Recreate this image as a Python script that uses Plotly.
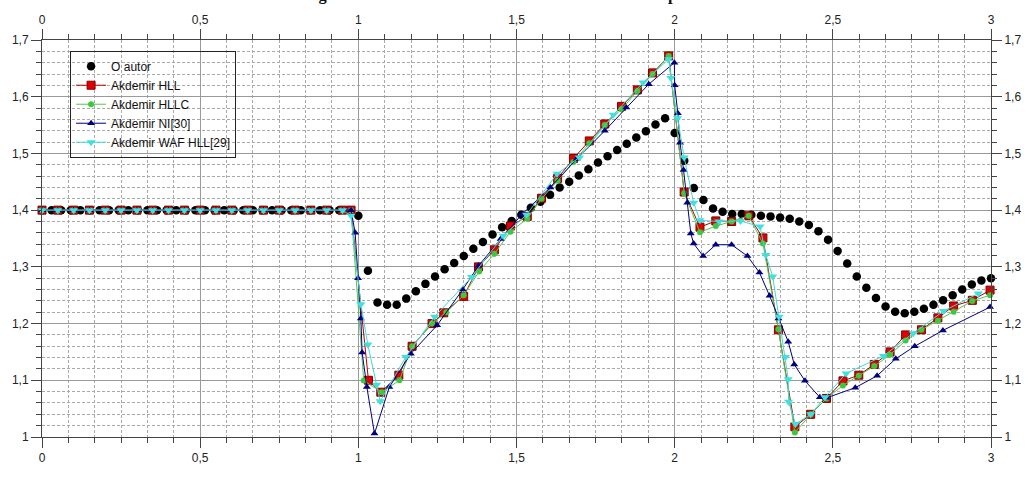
import numpy as np
import plotly.graph_objects as go

# ---------------- data ----------------
autor_x = np.linspace(0, 3, 100)
autor_y = [1.4] * 33 + [1.39,
    1.293, 1.237, 1.233, 1.233, 1.244, 1.257, 1.270, 1.283, 1.296, 1.307, 1.319, 1.332,
    1.344, 1.357, 1.370, 1.381, 1.392, 1.404, 1.415, 1.427, 1.440, 1.450, 1.461, 1.472,
    1.484, 1.495, 1.506, 1.517, 1.528, 1.539, 1.551, 1.562,
    1.536, 1.487, 1.439, 1.418, 1.403, 1.397, 1.393, 1.393, 1.392, 1.390, 1.389, 1.387,
    1.385, 1.380, 1.374, 1.363, 1.348, 1.328, 1.306, 1.283, 1.263, 1.245, 1.230, 1.221,
    1.218, 1.221, 1.226, 1.233, 1.241, 1.250, 1.260, 1.269, 1.276, 1.280]

flat_x = [0.0, 0.05, 0.1, 0.15, 0.2, 0.25, 0.3, 0.35, 0.4, 0.45, 0.5, 0.55, 0.6, 0.65,
          0.7, 0.75, 0.8, 0.85, 0.9, 0.95]

hll_x = flat_x + [0.977, 1.032, 1.071, 1.128, 1.17, 1.233, 1.27, 1.333, 1.38, 1.43, 1.481,
                  1.534, 1.579, 1.63, 1.68, 1.73, 1.779, 1.832, 1.882, 1.93, 1.981, 2.03,
                  2.08, 2.13, 2.18, 2.234, 2.279, 2.328, 2.38, 2.43, 2.48, 2.532, 2.582,
                  2.631, 2.681, 2.73, 2.78, 2.832, 2.882, 2.941, 2.997]
hll_y = [1.4] * 20 + [1.40, 1.10, 1.079, 1.109, 1.16, 1.20, 1.219, 1.248, 1.30, 1.33, 1.372,
                      1.389, 1.421, 1.456, 1.491, 1.522, 1.552, 1.583, 1.612, 1.642, 1.672,
                      1.432, 1.37, 1.381, 1.38, 1.39, 1.351, 1.189, 1.018, 1.04, 1.068,
                      1.099, 1.109, 1.128, 1.15, 1.18, 1.189, 1.21, 1.231, 1.241, 1.259]

hllc_x = flat_x + [0.977, 1.017, 1.074, 1.13, 1.17, 1.233, 1.278, 1.333, 1.382, 1.43, 1.481,
                   1.534, 1.579, 1.63, 1.68, 1.73, 1.779, 1.832, 1.882, 1.93, 1.981, 2.03,
                   2.08, 2.13, 2.18, 2.234, 2.279, 2.328, 2.38, 2.43, 2.48, 2.532, 2.582,
                   2.631, 2.681, 2.73, 2.78, 2.832, 2.882, 2.941, 2.997]
hllc_y = [1.4] * 20 + [1.40, 1.0995, 1.079, 1.10, 1.16, 1.20, 1.22, 1.25, 1.292, 1.323, 1.362,
                       1.385, 1.42, 1.452, 1.485, 1.518, 1.55, 1.578, 1.61, 1.64, 1.672,
                       1.43, 1.361, 1.372, 1.38, 1.39, 1.341, 1.19, 1.008, 1.04, 1.068,
                       1.091, 1.108, 1.125, 1.145, 1.17, 1.189, 1.205, 1.221, 1.24, 1.25]

ni_x = flat_x + [0.977, 0.99, 0.999, 1.008, 1.012, 1.027, 1.051, 1.098, 1.166, 1.249, 1.33,
                 1.38, 1.45, 1.516, 1.607, 1.69, 1.779, 1.847, 1.918, 1.999, 2.0, 2.01,
                 2.017, 2.028, 2.04, 2.051, 2.06, 2.09, 2.13, 2.18, 2.23, 2.268, 2.3,
                 2.328, 2.359, 2.378, 2.412, 2.459, 2.48, 2.571, 2.64, 2.699, 2.759,
                 2.848, 2.997]
ni_y = [1.4] * 20 + [1.40, 1.36, 1.28, 1.209, 1.149, 1.088, 1.006, 1.088, 1.147, 1.197, 1.26,
                     1.302, 1.349, 1.392, 1.44, 1.49, 1.54, 1.581, 1.622, 1.66, 1.62, 1.571,
                     1.519, 1.471, 1.413, 1.359, 1.341, 1.319, 1.339, 1.339, 1.319, 1.29,
                     1.249, 1.209, 1.168, 1.128, 1.099, 1.07, 1.069, 1.087, 1.108, 1.138,
                     1.16, 1.188, 1.229]

waf_x = flat_x + [0.977, 1.008, 1.03, 1.058, 1.069, 1.15, 1.241, 1.358, 1.458, 1.532, 1.628,
                  1.699, 1.806, 1.9, 1.981, 1.988, 2.009, 2.03, 2.06, 2.08, 2.14, 2.208,
                  2.27, 2.288, 2.31, 2.33, 2.35, 2.359, 2.36, 2.382, 2.43, 2.475, 2.542,
                  2.66, 2.754, 2.85, 2.96]
waf_y = [1.4] * 20 + [1.39, 1.234, 1.163, 1.092, 1.063, 1.141, 1.212, 1.282, 1.355, 1.392,
                      1.464, 1.493, 1.568, 1.625, 1.666, 1.633, 1.562, 1.493, 1.413, 1.382,
                      1.38, 1.381, 1.371, 1.321, 1.283, 1.212, 1.141, 1.102, 1.062, 1.023,
                      1.04, 1.07, 1.112, 1.143, 1.183, 1.222, 1.253]

names = ["O autor", "Akdemir HLL", "Akdemir HLLC", "Akdemir NI[30]", "Akdemir WAF HLL[29]"]
x_ticks = [0, 0.5, 1, 1.5, 2, 2.5, 3]
title_text = "Figura 4.12 – Resultados numéricos e de Akdemir – pressão"

# ---------------- figure ----------------
fig = go.Figure()
fig.add_trace(go.Scatter(x=autor_x, y=autor_y, mode="markers", name=names[0],
                         marker=dict(symbol="circle", size=8.5, color="black"), cliponaxis=False))
fig.add_trace(go.Scatter(x=hll_x, y=hll_y, mode="lines+markers", name=names[1],
                         line=dict(color="#b00000", width=1),
                         marker=dict(symbol="square", size=8, color="#e00000",
                                     line=dict(color="#800000", width=1)), cliponaxis=False))
fig.add_trace(go.Scatter(x=hllc_x, y=hllc_y, mode="lines+markers", name=names[2],
                         line=dict(color="#50c850", width=1),
                         marker=dict(symbol="circle", size=6, color="#3cc83c"), cliponaxis=False))
fig.add_trace(go.Scatter(x=ni_x, y=ni_y, mode="lines+markers", name=names[3],
                         line=dict(color="#000080", width=1),
                         marker=dict(symbol="triangle-up", size=7, color="#000080"), cliponaxis=False))
fig.add_trace(go.Scatter(x=waf_x, y=waf_y, mode="lines+markers", name=names[4],
                         line=dict(color="#40d8d8", width=1),
                         marker=dict(symbol="triangle-down", size=8, color="#40e0e0"), cliponaxis=False))
# dummy trace to anchor the top / right axes
fig.add_trace(go.Scatter(x=[0, 3], y=[1, 1.7], xaxis="x2", yaxis="y2", mode="markers",
                         marker=dict(opacity=0), showlegend=False, hoverinfo="skip"))

tickfont = dict(family="Liberation Sans, Arial", size=12, color="#222")
xcommon = dict(range=[0, 3], tickvals=x_ticks, ticks="outside", ticklen=10, tickcolor="#444",
               linecolor="#444", linewidth=1, tickfont=tickfont, zeroline=False,
               minor=dict(dtick=0.5 / 6, tick0=0, ticks="outside", ticklen=5, tickcolor="#444"))
ycommon = dict(range=[1, 1.7], dtick=0.1, tick0=1, ticks="outside", ticklen=10, tickcolor="#444",
               linecolor="#444", linewidth=1, tickfont=tickfont, zeroline=False,
               minor=dict(dtick=0.02, tick0=1, ticks="outside", ticklen=5, tickcolor="#444"))

fig.update_layout(
    width=1033, height=477,
    margin=dict(l=41, r=35, t=40, b=34),
    paper_bgcolor="white", plot_bgcolor="white",
    separators=",.",
    showlegend=True,
    legend=dict(x=0.0296, y=0.973, xanchor="left", yanchor="top",
                bgcolor="rgba(0,0,0,0)", bordercolor="#222", borderwidth=1,
                font=dict(family="Liberation Sans, Arial", size=12, color="#111"),
                tracegroupgap=0),
    xaxis=dict(**xcommon, side="bottom", showgrid=True, gridcolor="#9a9a9a", gridwidth=1,
               mirror=False),
    yaxis=dict(**ycommon, side="left", showgrid=True, gridcolor="#9a9a9a", gridwidth=1),
    xaxis2=dict(**xcommon, side="top", overlaying="x", anchor="y", showgrid=False),
    yaxis2=dict(**ycommon, side="right", overlaying="y", anchor="x", showgrid=False),
)
fig.update_xaxes(minor_showgrid=True, minor_griddash="3px,2px", minor_gridcolor="#aaaaaa",
                 minor_gridwidth=1, selector=dict(side="bottom"))
fig.update_yaxes(minor_showgrid=True, minor_griddash="3px,2px", minor_gridcolor="#aaaaaa",
                 minor_gridwidth=1, selector=dict(side="left"))

fig.add_annotation(text="<b>" + title_text + "</b>", xref="paper", yref="paper",
                   x=(303 - 41) / 957, y=1 + (40 - 5) / 403, xanchor="left", yanchor="bottom",
                   showarrow=False,
                   font=dict(family="Liberation Serif, Times New Roman", size=16.4, color="#111"))

fig.write_html("out.html")
